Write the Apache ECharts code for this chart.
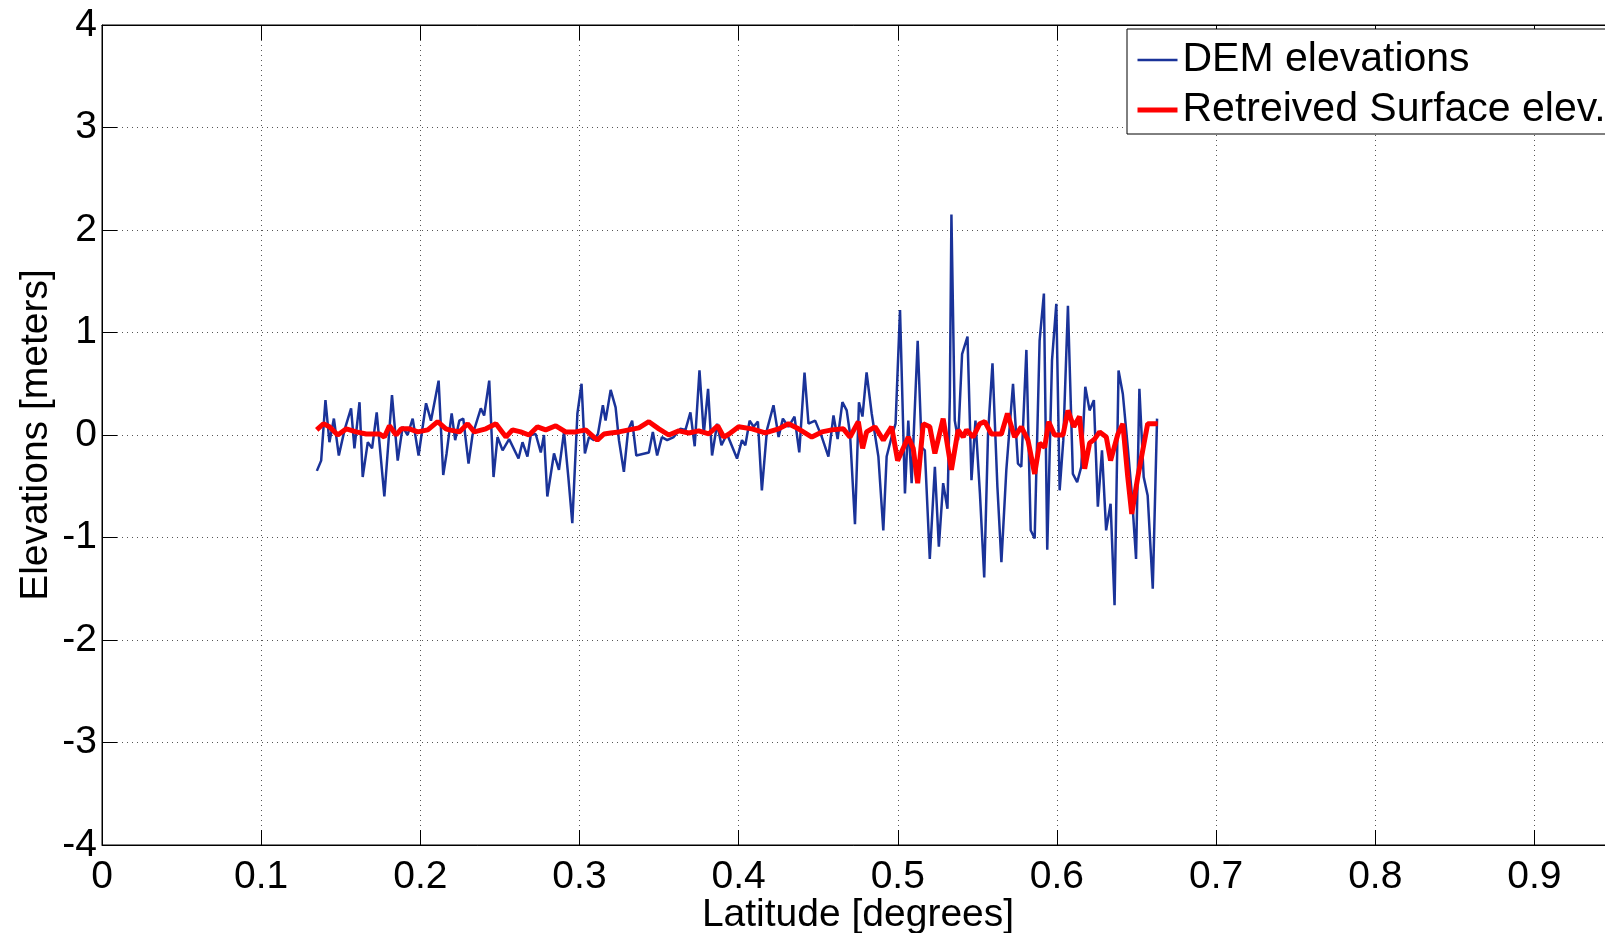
<!DOCTYPE html>
<html>
<head>
<meta charset="utf-8">
<title>DEM vs retrieved surface elevation</title>
<script src="https://cdn.jsdelivr.net/npm/echarts@6/dist/echarts.min.js"></script>
<style>
  html, body { margin: 0; padding: 0; background: #fff; }
  #chart { width: 1605px; height: 933px; }
</style>
</head>
<body>
<div id="chart"></div>
<script>
// DEM elevations (blue)
const demLat = [
  0.1350, 0.1377, 0.1404, 0.1429, 0.1457, 0.1488, 0.1524, 0.1565, 0.1586, 0.1618,
  0.1638, 0.1670, 0.1697, 0.1726, 0.1774, 0.1822, 0.1858, 0.1889, 0.1920, 0.1952,
  0.1989, 0.2036, 0.2067, 0.2115, 0.2144, 0.2165, 0.2197, 0.2219, 0.2245, 0.2270,
  0.2303, 0.2328, 0.2380, 0.2401, 0.2433, 0.2460, 0.2485, 0.2517, 0.2558, 0.2617,
  0.2642, 0.2673, 0.2694, 0.2725, 0.2757, 0.2777, 0.2798, 0.2840, 0.2871, 0.2903,
  0.2930, 0.2955, 0.2987, 0.3013, 0.3034, 0.3060, 0.3091, 0.3116, 0.3147, 0.3164,
  0.3196, 0.3227, 0.3248, 0.3279, 0.3306, 0.3331, 0.3357, 0.3436, 0.3461, 0.3488,
  0.3518, 0.3551, 0.3592, 0.3634, 0.3666, 0.3697, 0.3724, 0.3754, 0.3781, 0.3808,
  0.3833, 0.3865, 0.3892, 0.3927, 0.3990, 0.4021, 0.4042, 0.4069, 0.4094, 0.4121,
  0.4146, 0.4178, 0.4219, 0.4251, 0.4278, 0.4313, 0.4351, 0.4381, 0.4414, 0.4439,
  0.4481, 0.4523, 0.4564, 0.4596, 0.4622, 0.4652, 0.4679, 0.4700, 0.4731, 0.4756,
  0.4778, 0.4804, 0.4836, 0.4878, 0.4909, 0.4930, 0.4961, 0.4986, 0.5014, 0.5045,
  0.5066, 0.5087, 0.5125, 0.5150, 0.5170, 0.5201, 0.5233, 0.5258, 0.5285, 0.5312,
  0.5327, 0.5337, 0.5358, 0.5379, 0.5404, 0.5438, 0.5463, 0.5488, 0.5516, 0.5543,
  0.5567, 0.5595, 0.5626, 0.5651, 0.5682, 0.5724, 0.5755, 0.5776, 0.5808, 0.5835,
  0.5860, 0.5891, 0.5918, 0.5939, 0.5969, 0.5996, 0.6017, 0.6040, 0.6069, 0.6100,
  0.6127, 0.6153, 0.6178, 0.6205, 0.6232, 0.6257, 0.6283, 0.6309, 0.6337, 0.6362,
  0.6387, 0.6414, 0.6445, 0.6470, 0.6497, 0.6518, 0.6545, 0.6570, 0.6602, 0.6629
]
const demElev = [
  -0.35, -0.25, 0.34, -0.07, 0.16, -0.20, 0.05, 0.26, -0.13, 0.32,
  -0.41, -0.07, -0.13, 0.22, -0.60, 0.39, -0.25, 0.08, 0.00, 0.16,
  -0.20, 0.31, 0.14, 0.53, -0.39, -0.18, 0.21, -0.05, 0.14, 0.16,
  -0.28, 0.00, 0.26, 0.19, 0.53, -0.41, -0.02, -0.15, -0.04, -0.23,
  -0.07, -0.21, 0.00, 0.01, -0.17, 0.00, -0.60, -0.18, -0.34, 0.03,
  -0.41, -0.86, 0.21, 0.50, -0.18, -0.02, -0.05, 0.01, 0.29, 0.14,
  0.44, 0.27, -0.05, -0.36, 0.05, 0.14, -0.20, -0.17, 0.03, -0.20,
  -0.02, -0.05, -0.02, 0.06, 0.05, 0.22, -0.11, 0.63, 0.01, 0.45,
  -0.20, 0.11, -0.10, 0.01, -0.23, -0.05, -0.10, 0.14, 0.08, 0.13,
  -0.54, 0.05, 0.29, -0.02, 0.16, 0.08, 0.18, -0.17, 0.61, 0.11,
  0.14, -0.02, -0.21, 0.19, -0.04, 0.32, 0.24, 0.01, -0.87, 0.32,
  0.18, 0.61, 0.21, -0.21, -0.93, -0.21, -0.02, 0.11, 1.22, -0.57,
  0.14, -0.47, 0.92, -0.12, -0.15, -1.21, -0.31, -1.09, -0.47, -0.72,
  0.37, 2.15, 0.14, -0.05, 0.79, 0.96, -0.44, 0.14, -0.57, -1.39,
  0.01, 0.70, -0.51, -1.24, -0.34, 0.50, -0.28, -0.31, 0.83, -0.93,
  -1.01, 0.92, 1.38, -1.12, 0.73, 1.28, -0.54, -0.05, 1.26, -0.38,
  -0.46, -0.31, 0.47, 0.24, 0.34, -0.70, -0.15, -0.93, -0.67, -1.66,
  0.63, 0.40, -0.12, -0.57, -1.21, 0.45, -0.41, -0.59, -1.50, 0.16
]

// retrieved surface elevation (red)
const retLat = [
  0.1349, 0.1391, 0.1429, 0.1481, 0.1535, 0.1597, 0.1660, 0.1743, 0.1774, 0.1806,
  0.1848, 0.1880, 0.1931, 0.1984, 0.2047, 0.2109, 0.2161, 0.2182, 0.2245, 0.2297,
  0.2339, 0.2412, 0.2475, 0.2538, 0.2579, 0.2631, 0.2683, 0.2736, 0.2788, 0.2851,
  0.2913, 0.2976, 0.3039, 0.3112, 0.3154, 0.3196, 0.3248, 0.3310, 0.3373, 0.3436,
  0.3499, 0.3561, 0.3624, 0.3687, 0.3749, 0.3812, 0.3868, 0.3906, 0.3940, 0.4000,
  0.4084, 0.4167, 0.4251, 0.4313, 0.4376, 0.4460, 0.4523, 0.4585, 0.4658, 0.4700,
  0.4752, 0.4779, 0.4804, 0.4857, 0.4909, 0.4961, 0.4999, 0.5066, 0.5097, 0.5125,
  0.5160, 0.5201, 0.5233, 0.5285, 0.5337, 0.5379, 0.5411, 0.5432, 0.5473, 0.5515,
  0.5547, 0.5588, 0.5651, 0.5689, 0.5734, 0.5776, 0.5818, 0.5860, 0.5891, 0.5923,
  0.5948, 0.5985, 0.6038, 0.6069, 0.6106, 0.6142, 0.6174, 0.6205, 0.6236, 0.6268,
  0.6310, 0.6337, 0.6383, 0.6414, 0.6445, 0.6470, 0.6508, 0.6539, 0.6570, 0.6633
]
const retElev = [
  0.05, 0.11, 0.08, 0.00, 0.06, 0.03, 0.01, 0.01, -0.02, 0.09,
  0.00, 0.06, 0.06, 0.03, 0.05, 0.13, 0.06, 0.05, 0.03, 0.11,
  0.03, 0.06, 0.11, -0.02, 0.05, 0.03, 0.00, 0.08, 0.05, 0.09,
  0.03, 0.03, 0.05, -0.05, 0.01, 0.02, 0.03, 0.05, 0.07, 0.13,
  0.06, 0.00, 0.04, 0.02, 0.04, 0.01, 0.09, -0.02, 0.01, 0.08,
  0.06, 0.02, 0.06, 0.11, 0.06, -0.02, 0.03, 0.05, 0.06, -0.02,
  0.13, -0.13, 0.03, 0.08, -0.05, 0.08, -0.25, -0.02, -0.13, -0.47,
  0.11, 0.08, -0.18, 0.16, -0.34, 0.05, -0.02, 0.05, -0.02, 0.11,
  0.13, 0.01, 0.01, 0.21, -0.02, 0.08, -0.05, -0.38, -0.08, -0.12,
  0.13, 0.00, 0.00, 0.24, 0.08, 0.18, -0.33, -0.08, -0.04, 0.03,
  -0.02, -0.25, 0.01, 0.11, -0.41, -0.77, -0.41, -0.15, 0.11, 0.11
]

const fontFamily = '"Liberation Sans", Arial, Helvetica, sans-serif'
const blue = '#1a3399'
const red = '#ff0000'
const gridLine = {
  show: true,
  lineStyle: { color: '#555', width: 1, type: [1, 4] }
}
const axisLineStyle = { show: true, onZero: false, lineStyle: { color: '#000', width: 1 } }
const tickInside = { show: true, inside: true, length: 15, lineStyle: { color: '#000' } }

const demData = demLat.map((x, i) => [x, demElev[i]])
const retData = retLat.map((x, i) => [x, retElev[i]])

const chart = echarts.init(document.getElementById('chart'))
chart.setOption({
  animation: false,
  backgroundColor: '#fff',
  textStyle: { fontFamily },
  grid: {
    left: 102,
    top: 25,
    right: -9, // axes run a little past the right edge of the picture
    bottom: 88,
    outerBoundsMode: 'none',
    show: true,
    borderColor: '#000',
    borderWidth: 1
  },
  legend: {
    orient: 'vertical',
    left: 1127,
    top: 29,
    padding: [9, 90, 2, 8],
    itemWidth: 40,
    itemHeight: 6,
    itemGap: 6,
    itemStyle: { opacity: 0 },
    lineStyle: { width: 'inherit' },
    borderColor: '#000',
    borderWidth: 1,
    borderRadius: 0,
    backgroundColor: '#fff',
    textStyle: { fontSize: 41, lineHeight: 44, color: '#000', fontFamily },
    data: ['DEM elevations', 'Retreived Surface elev.']
  },
  xAxis: [
    {
      type: 'value',
      position: 'bottom',
      min: 0,
      max: 0.95,
      interval: 0.1,
      name: 'Latitude [degrees]',
      nameLocation: 'middle',
      nameGap: 51,
      nameMoveOverlap: false,
      nameTextStyle: { fontSize: 39, color: '#000', fontFamily },
      axisLine: axisLineStyle,
      axisTick: tickInside,
      axisLabel: {
        fontSize: 39,
        color: '#000',
        margin: 13,
        fontFamily,
        formatter: v => (Math.round(v * 100) % 10 === 0 ? String(+v.toFixed(1)) : '')
      },
      splitLine: gridLine
    },
    {
      type: 'value',
      position: 'top',
      min: 0,
      max: 0.95,
      interval: 0.1,
      axisLine: axisLineStyle,
      axisTick: tickInside,
      axisLabel: { show: false },
      splitLine: { show: false }
    }
  ],
  yAxis: {
    type: 'value',
    min: -4,
    max: 4,
    interval: 1,
    name: 'Elevations [meters]',
    nameLocation: 'middle',
    nameGap: 46,
    nameMoveOverlap: false,
    nameTextStyle: { fontSize: 39, color: '#000', fontFamily },
    axisLine: axisLineStyle,
    axisTick: tickInside,
    axisLabel: { fontSize: 39, color: '#000', margin: 5, fontFamily },
    splitLine: gridLine
  },
  series: [
    {
      name: 'DEM elevations',
      type: 'line',
      data: demData,
      symbol: 'none',
      itemStyle: { color: blue },
      lineStyle: { color: blue, width: 2.5 },
      z: 2
    },
    {
      name: 'Retreived Surface elev.',
      type: 'line',
      data: retData,
      symbol: 'none',
      itemStyle: { color: red },
      lineStyle: { color: red, width: 5 },
      z: 3
    }
  ]
})
</script>
</body>
</html>
